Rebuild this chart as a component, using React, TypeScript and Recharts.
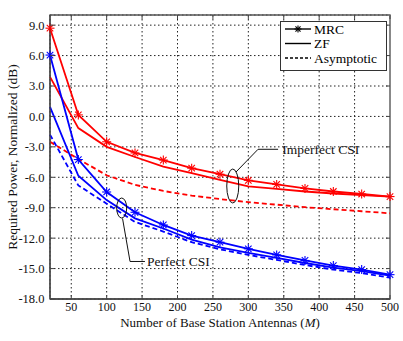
import {
    LineChart,
    Line,
    XAxis,
    YAxis,
    CartesianGrid,
    ReferenceArea,
    ReferenceDot,
    ReferenceLine,
} from 'recharts';

// number of base station antennas (M)
const antennas = [20, 60, 100, 140, 180, 220, 260, 300, 340, 380, 420, 460, 500];

// required power, normalized (dB)
const mrcImperfect = [8.7, 0.15, -2.5, -3.6, -4.3, -5.1, -5.7, -6.3, -6.7, -7.1, -7.4, -7.65, -7.9];
const zfImperfect = [3.9, -1.15, -3.0, -4.0, -4.95, -5.6, -6.25, -6.9, -7.15, -7.4, -7.6, -7.75, -7.9];
const asymImperfect = [-2.5, -4.2, -5.8, -6.75, -7.35, -7.8, -8.15, -8.45, -8.7, -8.95, -9.15, -9.35, -9.55];
const mrcPerfect = [6.05, -4.25, -7.45, -9.45, -10.7, -11.75, -12.4, -13.05, -13.65, -14.2, -14.7, -15.1, -15.6];
const zfPerfect = [0.95, -5.85, -8.25, -10.05, -11.05, -12.15, -12.9, -13.45, -13.95, -14.45, -14.9, -15.25, -15.7];
const asymPerfect = [-1.8, -6.8, -8.6, -10.4, -11.35, -12.4, -13.1, -13.65, -14.15, -14.65, -15.1, -15.45, -15.9];

const xTicks = [50, 100, 150, 200, 250, 300, 350, 400, 450, 500];
const yTicks = [-18, -15, -12, -9, -6, -3, 0, 3, 6, 9];

const data = antennas.map((m, i) => ({
    m,
    mrcImp: mrcImperfect[i],
    zfImp: zfImperfect[i],
    asymImp: asymImperfect[i],
    mrcPer: mrcPerfect[i],
    zfPer: zfPerfect[i],
    asymPer: asymPerfect[i],
}));

const W = 403;
const H = 341;
const LEFT = 50;
const RIGHT = 390;
const TOP = 15;
const BOTTOM = 299;
const FONT = '"Liberation Serif", serif';
const RED = '#ff0000';
const BLUE = '#0000ff';

function Star({ cx, cy, color, r = 4.5 }: any) {
    const d = r * 0.72;
    return (
        <g stroke={color} strokeWidth={1.1} fill="none">
            <line x1={cx - r} y1={cy} x2={cx + r} y2={cy} />
            <line x1={cx} y1={cy - r} x2={cx} y2={cy + r} />
            <line x1={cx - d} y1={cy - d} x2={cx + d} y2={cy + d} />
            <line x1={cx - d} y1={cy + d} x2={cx + d} y2={cy - d} />
        </g>
    );
}

const starDot = (color: string) => (p: any) => (
    <Star key={`st-${p.index}`} cx={p.cx} cy={p.cy} color={color} />
);

function XTick({ x, payload }: any) {
    return (
        <g>
            <line x1={x} x2={x} y1={BOTTOM} y2={BOTTOM - 4} stroke="#444" />
            <line x1={x} x2={x} y1={TOP} y2={TOP + 4} stroke="#444" />
            <text x={x} y={BOTTOM + 12} textAnchor="middle" fontSize={12} fontFamily={FONT} fill="#111">
                {payload.value}
            </text>
        </g>
    );
}

function YTick({ y, payload }: any) {
    return (
        <g>
            <line x1={LEFT} x2={LEFT + 4} y1={y} y2={y} stroke="#444" />
            <line x1={RIGHT} x2={RIGHT - 4} y1={y} y2={y} stroke="#444" />
            <text x={LEFT - 5.5} y={y} dy="0.35em" textAnchor="end" fontSize={12.5} fontFamily={FONT} fill="#111">
                {payload.value.toFixed(1)}
            </text>
        </g>
    );
}

function Legend() {
    const rows = [
        { name: 'MRC', dash: undefined, star: true, y: 8 },
        { name: 'ZF', dash: undefined, star: false, y: 22.5 },
        { name: 'Asymptotic', dash: '3 2', star: false, y: 37 },
    ];
    return (
        <svg
            width={108}
            height={51}
            style={{ position: 'absolute', left: 280, top: 21, overflow: 'visible' }}
        >
            <rect x={0.5} y={0.5} width={106} height={49} fill="#fff" stroke="#333" strokeWidth={1} />
            {rows.map((r) => (
                <g key={r.name}>
                    <line x1={5} x2={31} y1={r.y} y2={r.y} stroke="#000" strokeWidth={1.4} strokeDasharray={r.dash} />
                    {r.star && <Star cx={18} cy={r.y} color="#000" r={3.5} />}
                    <text x={34} y={r.y} dy="0.35em" fontSize={13.5} fontFamily={FONT} fill="#000">
                        {r.name}
                    </text>
                </g>
            ))}
        </svg>
    );
}

const ellipse = (rx: number, ry: number) => (p: any) => (
    <ellipse cx={p.cx} cy={p.cy} rx={rx} ry={ry} fill="none" stroke="#111" strokeWidth={1} />
);

const note = (txt: string) => (p: any) => (
    <text x={p.cx} y={p.cy} dy="0.35em" fontSize={13.5} fontFamily={FONT} fill="#111">
        {txt}
    </text>
);

export default function App() {
    return (
        <div style={{ position: 'absolute', left: 0, top: 0, width: W, height: H, background: '#fff' }}>
            <LineChart width={W} height={H} data={data} margin={{ top: TOP, right: W - RIGHT, left: 0, bottom: 0 }}>
                <CartesianGrid stroke="#222" strokeDasharray="1.5 2.5" />
                <XAxis
                    dataKey="m"
                    type="number"
                    domain={[20, 500]}
                    ticks={xTicks}
                    height={H - BOTTOM}
                    tickSize={0}
                    tickMargin={0}
                    tickLine={false}
                    axisLine={{ stroke: '#444', strokeWidth: 1.3 }}
                    tick={<XTick />}
                    interval={0}
                    label={{
                        content: ({ viewBox }: any) => (
                            <text
                                x={viewBox.x + viewBox.width / 2}
                                y={BOTTOM + 28}
                                textAnchor="middle"
                                fontSize={13}
                                fontFamily={FONT}
                                fill="#111"
                            >
                                Number of Base Station Antennas (<tspan fontStyle="italic">M</tspan>)
                            </text>
                        ),
                    }}
                />
                <YAxis
                    type="number"
                    domain={[-18, 10]}
                    ticks={yTicks}
                    width={LEFT}
                    tickSize={0}
                    tickMargin={0}
                    tickLine={false}
                    axisLine={{ stroke: '#444', strokeWidth: 1.3 }}
                    tick={<YTick />}
                    interval={0}
                    label={{
                        content: () => (
                            <text
                                transform={`translate(17, 157) rotate(-90)`}
                                textAnchor="middle"
                                fontSize={13.5}
                                fontFamily={FONT}
                                fill="#111"
                            >
                                Required Power, Normalized (dB)
                            </text>
                        ),
                    }}
                />
                <ReferenceArea x1={20} x2={500} y1={-18} y2={10} fill="none" stroke="#555" strokeWidth={1.3} />
                <ReferenceLine x={500} stroke="#888" strokeWidth={2} />

                <Line type="linear" dataKey="asymImp" stroke={RED} strokeWidth={1.8} strokeDasharray="5 3" dot={false} isAnimationActive={false} />
                <Line type="linear" dataKey="zfImp" stroke={RED} strokeWidth={1.8} dot={false} isAnimationActive={false} />
                <Line type="linear" dataKey="mrcImp" stroke={RED} strokeWidth={1.8} dot={starDot(RED)} isAnimationActive={false} />
                <Line type="linear" dataKey="asymPer" stroke={BLUE} strokeWidth={1.8} strokeDasharray="5 3" dot={false} isAnimationActive={false} />
                <Line type="linear" dataKey="zfPer" stroke={BLUE} strokeWidth={1.8} dot={false} isAnimationActive={false} />
                <Line type="linear" dataKey="mrcPer" stroke={BLUE} strokeWidth={1.8} dot={starDot(BLUE)} isAnimationActive={false} />

                {/* Imperfect CSI annotation */}
                <ReferenceDot x={278} y={-6.86} r={0} shape={ellipse(6, 17)} />
                <ReferenceLine segment={[{ x: 282.6, y: -5.48 }, { x: 313.7, y: -3.24 }]} stroke="#111" />
                <ReferenceLine segment={[{ x: 313.7, y: -3.24 }, { x: 342, y: -3.24 }]} stroke="#111" />
                <ReferenceDot x={348} y={-3.2} r={0} shape={note('Imperfect CSI')} />

                {/* Perfect CSI annotation */}
                <ReferenceDot x={121.2} y={-9.03} r={0} shape={ellipse(5, 10)} />
                <ReferenceLine segment={[{ x: 122.4, y: -10.06 }, { x: 133, y: -14.3 }]} stroke="#111" />
                <ReferenceLine segment={[{ x: 133, y: -14.3 }, { x: 154, y: -14.3 }]} stroke="#111" />
                <ReferenceDot x={157} y={-14.3} r={0} shape={note('Perfect CSI')} />
            </LineChart>
            <Legend />
        </div>
    );
}
